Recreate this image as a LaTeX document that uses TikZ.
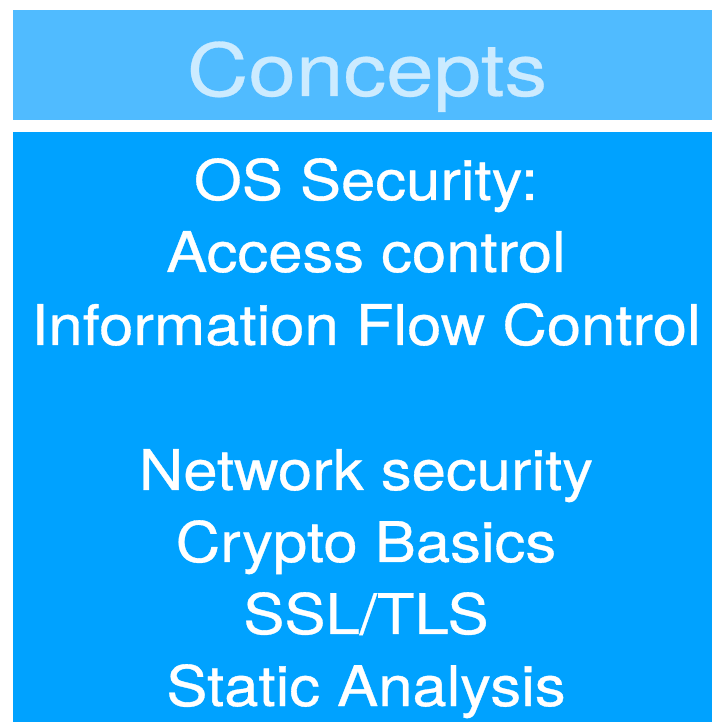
\documentclass[tikz,border=0pt]{standalone}
\usepackage{fontspec}
\setmainfont{TeX Gyre Heros}
\newfontfamily\bodyfont[FakeStretch=1.10,FakeBold=0.6]{TeX Gyre Heros}
\newfontfamily\titlefont[FakeStretch=1.17,FakeBold=0.4]{TeX Gyre Heros}
\definecolor{toplight}{RGB}{80,187,255}
\definecolor{bodyblue}{RGB}{0,162,255}
\definecolor{titletext}{RGB}{204,235,255}
\begin{document}
\begin{tikzpicture}[x=1pt,y=1pt,
  body/.style={anchor=base,text=white,inner sep=0pt,font=\bodyfont\fontsize{56}{67}\selectfont},
  ttl/.style={anchor=base,text=titletext,inner sep=0pt,font=\titlefont\fontsize{73}{86}\selectfont}]
\useasboundingbox (0,0) rectangle (712,722);
\fill[toplight] (13,722-10) rectangle (712,722-120);
\fill[bodyblue] (13,722-132) rectangle (712,0);
\node[ttl] (title) at (367,722-96) {Concepts};
\node[body] (l1) at (366,722-200) {OS Security:};
\node[body] (l2) at (366,722-272) {Access control};
\node[body] (l3) at (366,722-345) {Information Flow Control};
\node[body] (l4) at (366,722-490) {Network security};
\node[body] (l5) at (366,722-562) {Crypto Basics};
\node[body] (l6) at (366,722-634) {SSL/TLS};
\node[body] (l7) at (366,722-706) {Static Analysis};
\end{tikzpicture}
\end{document}
